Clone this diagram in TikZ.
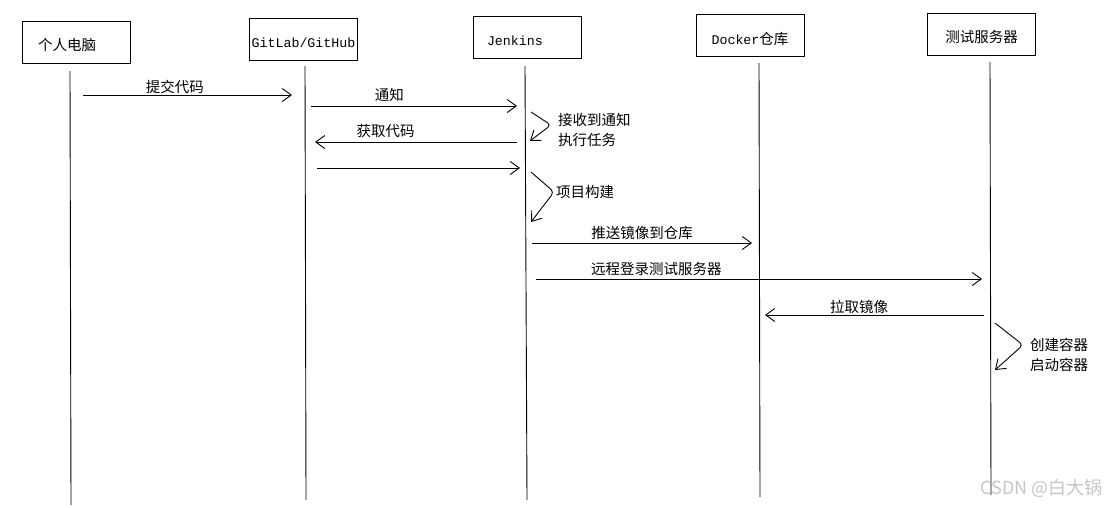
\documentclass[tikz,border=0pt]{standalone}
\usepackage{fontspec}
\setmainfont{Noto Sans CJK SC}
\setmonofont{Liberation Mono}
\usetikzlibrary{arrows.meta}
\newcommand{\monotxt}{\ttfamily\fontsize{13.3}{16}\selectfont}
\newcommand{\cntxt}{\fontsize{14.5}{20}\selectfont}
\tikzset{
  actor/.style={rectangle, draw=black, line width=0.9pt, minimum width=108pt,
                minimum height=42pt, inner sep=2pt, text height=19pt,
                text depth=2pt, font=\cntxt},
  life/.style={line width=0.9pt},
  msg/.style={line width=0.9pt, -{Straight Barb[length=9pt,width=13pt]}},
  selfmsg/.style={msg, rounded corners=4pt},
  lbl/.style={font=\cntxt, inner sep=1pt, align=left},
}

\begin{document}
\begin{tikzpicture}[x=1pt, y=-1pt]
  \useasboundingbox (0,0) rectangle (1119,507);
  % actors
  \node[actor, text width=76pt, align=left] (pc) at (76,42) {个人电脑};
  \node[actor, font=\monotxt] (git) at (303.5,39) {GitLab/GitHub};
  \node[actor, font=\monotxt, text width=80pt, align=left] (jen) at (527,37) {Jenkins};
  \node[actor] (dock) at (750,35.5) {{\monotxt Docker}仓库};
  \node[actor] (test) at (981.5,34) {测试服务器};

  % lifelines
  \coordinate (pc-t) at (70,71);    \coordinate (pc-b) at (71,505);
  \coordinate (git-t) at (305,66);  \coordinate (git-b) at (306,500);
  \coordinate (jen-t) at (525,66);  \coordinate (jen-b) at (527,500);
  \coordinate (dock-t) at (759,63); \coordinate (dock-b) at (760,497);
  \coordinate (test-t) at (990,62); \coordinate (test-b) at (991,495);
  \foreach \a in {pc,git,jen,dock,test}
    \draw[life] (\a-t) -- (\a-b);

  % message ends
  \coordinate (push-s) at (83,95);   \coordinate (push-e) at (292,95);
  \coordinate (hook-s) at (311,106); \coordinate (hook-e) at (517,106);
  \coordinate (pull-s) at (517,142); \coordinate (pull-e) at (315,142);
  \coordinate (code-s) at (317,168); \coordinate (code-e) at (520,168);
  \coordinate (img-s) at (532,243);  \coordinate (img-e) at (752,243);
  \coordinate (ssh-s) at (536,279);  \coordinate (ssh-e) at (982,279);
  \coordinate (get-s) at (984,315);  \coordinate (get-e) at (765,315);

  \draw[msg] (push-s) -- node[lbl, above, pos=.44] {提交代码} (push-e);
  \draw[msg] (hook-s) -- node[lbl, above=3pt, pos=.38] {通知} (hook-e);
  \draw[msg] (pull-s) -- node[lbl, above=3pt, pos=.65] {获取代码} (pull-e);
  \draw[msg] (code-s) -- (code-e);
  \draw[msg] (img-s) -- node[lbl, above=2pt, pos=.5] {推送镜像到仓库} (img-e);
  \draw[msg] (ssh-s) -- node[lbl, above=2pt, pos=.27] {远程登录测试服务器} (ssh-e);
  \draw[msg] (get-s) -- node[lbl, above, pos=.57] {拉取镜像} (get-e);

  % self calls
  \coordinate (task-s) at (531,112); \coordinate (task-m) at (551,125);
  \coordinate (task-e) at (530,141);
  \coordinate (build-s) at (531,172); \coordinate (build-m) at (554,192);
  \coordinate (build-e) at (531,222);
  \coordinate (run-s) at (995,323); \coordinate (run-m) at (1023,345);
  \coordinate (run-e) at (995,370);

  \draw[selfmsg] (task-s) -- (task-m) -- (task-e);
  \node[lbl, anchor=west, xshift=6pt, yshift=-5pt] (tasklbl) at (task-m)
    {接收到通知\\执行任务};
  \draw[selfmsg] (build-s) -- (build-m) -- (build-e);
  \node[lbl, anchor=west, xshift=1pt] (buildlbl) at (build-m) {项目构建};
  \draw[selfmsg] (run-s) -- (run-m) -- (run-e);
  \node[lbl, anchor=west, xshift=6pt, yshift=-10pt] (runlbl) at (run-m)
    {创建容器\\启动容器};

  % watermark
  \node[font=\fontsize{18}{20}\selectfont, text=gray!45, anchor=east] (mark)
    at (1106,488) {CSDN @白大锅};
\end{tikzpicture}
\end{document}
